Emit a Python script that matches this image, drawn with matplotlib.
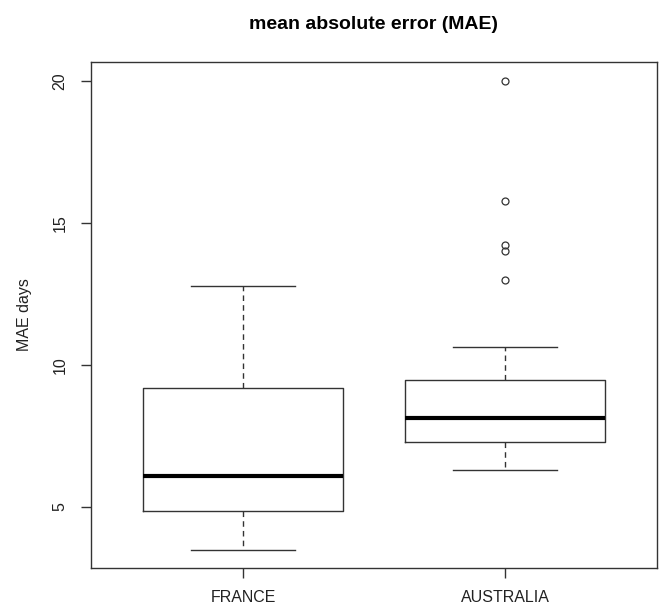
import matplotlib
matplotlib.use("Agg")
import matplotlib.pyplot as plt

plt.rcParams["font.family"] = ["Liberation Sans", "DejaVu Sans"]

# five-number summaries, plus outliers
groups = ["FRANCE", "AUSTRALIA"]
whisker_lo = [3.49, 6.29]
box_lo = [4.86, 7.29]
medians = [6.09, 8.11]
box_hi = [9.19, 9.46]
whisker_hi = [12.78, 10.61]
outliers = [[], [20.0, 15.77, 14.21, 14.0, 13.0]]
yticks = [5, 10, 15, 20]

stats = []
for i, g in enumerate(groups):
    stats.append(dict(label=g, whislo=whisker_lo[i], q1=box_lo[i], med=medians[i],
                      q3=box_hi[i], whishi=whisker_hi[i], fliers=outliers[i]))

fig = plt.figure(figsize=(6.64, 6.06), dpi=100)
ax = fig.add_axes([0.137, 0.0627, 0.8525, 0.835])

edge = "#333333"
parts = ax.bxp(stats, positions=[1, 2], widths=0.765, showfliers=True,
               boxprops=dict(color=edge, lw=1.0),
               medianprops=dict(color="black", lw=3.0, solid_capstyle="butt"),
               whiskerprops=dict(color=edge, lw=1.0, linestyle=(0, (4, 3))),
               capprops=dict(color=edge, lw=1.0),
               flierprops=dict(marker="o", markersize=5, markerfacecolor="none",
                               markeredgecolor=edge, markeredgewidth=0.9))
# R staples are half the box width
for cap in parts["caps"]:
    x0, x1 = cap.get_xdata()
    c = (x0 + x1) / 2
    cap.set_xdata([c - 0.2, c + 0.2])

ax.set_xlim(0.42, 2.58)
ax.set_ylim(2.84, 20.66)
ax.set_yticks(yticks)
ax.set_yticklabels([str(t) for t in yticks], rotation=90, va="center")
ax.set_xticks([1, 2])
ax.set_xticklabels(groups)
ax.tick_params(axis="both", direction="out", length=7, width=1.0, color=edge,
               labelsize=11.5, labelcolor="#222222")
ax.tick_params(axis="y", pad=10)
ax.tick_params(axis="x", pad=9)
for s in ax.spines.values():
    s.set_color(edge)
    s.set_linewidth(1.0)

ax.set_ylabel("MAE days", fontsize=11.5, color="#222222")
ax.yaxis.set_label_coords(-0.105, 0.5)
fig.suptitle("mean absolute error (MAE)", fontsize=14, fontweight="bold", x=0.563, y=0.973)

fig.savefig("out.png", dpi=100)
